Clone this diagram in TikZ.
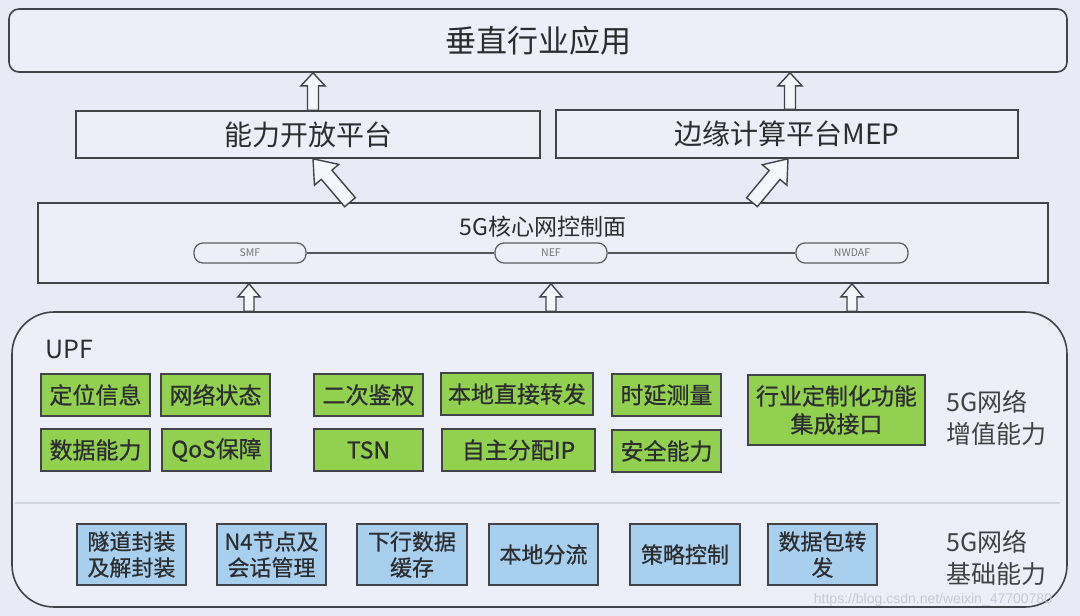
\documentclass[tikz,border=0pt]{standalone}
\usepackage{fontspec}
\setmainfont{Noto Sans CJK SC}
\newfontfamily\boxfont{Noto Sans CJK SC}[FakeBold=0.7]
\newfontfamily\wmfont{Liberation Sans}
\usetikzlibrary{calc}
\definecolor{bg}{RGB}{232,235,245}
\definecolor{boxfill}{RGB}{237,239,248}
\definecolor{edge}{RGB}{68,68,72}
\definecolor{txt}{RGB}{45,45,48}
\definecolor{gfill}{RGB}{146,208,80}
\definecolor{bfill}{RGB}{168,208,238}
\definecolor{divider}{RGB}{208,211,224}
\definecolor{wmcol}{RGB}{198,200,212}
\newcommand\fs[2]{\fontsize{#1}{#2}\selectfont}
% hollow block arrow: [style] tail, tip, shaft half-width, head half-width, head length
\newcommand\hollowarrow[6][]{%
  \path ($(#3)!#6!(#2)$) coordinate (hb);
  \draw[blockarrow,#1] ($(#2)!#4!90:(#3)$) -- ($(hb)!#4!90:(#3)$) -- ($(hb)!#5!90:(#3)$) -- (#3)
     -- ($(hb)!#5!-90:(#3)$) -- ($(hb)!#4!-90:(#3)$) -- ($(#2)!#4!-90:(#3)$) -- cycle;}
\begin{document}
\begin{tikzpicture}[x=1pt,y=-1pt,
  layer/.style={draw=edge,line width=1.6pt,fill=boxfill,text=txt,inner sep=0pt},
  nf/.style={draw=edge!85,line width=1.3pt,fill=boxfill,rounded corners=9pt,minimum width=112pt,minimum height=20pt,inner sep=0pt,font=\fs{10.5}{12},text=edge!75},
  gbox/.style={draw=edge,line width=2pt,fill=gfill,text=txt,minimum width=109pt,minimum height=42pt,inner sep=0pt,font=\boxfont\fs{23}{28},align=center},
  bbox/.style={draw=edge,line width=2pt,fill=bfill,text=txt,minimum width=109pt,minimum height=61pt,inner sep=0pt,font=\boxfont\fs{22}{26},align=center},
  side/.style={text=txt!90,font=\fs{25}{32},align=left,anchor=west,inner sep=0pt},
  blockarrow/.style={draw=edge,line width=1.4pt,fill=white!55!bg,line join=miter},
  nfline/.style={draw=edge!90,line width=1.8pt}]
\fill[bg] (0,0) rectangle (1080,616);
\useasboundingbox (0,0) rectangle (1080,616);

% top layers
\node[layer,rounded corners=10pt,minimum width=1058pt,minimum height=63pt,font=\fs{31}{36}] (app) at (538,40.5) {垂直行业应用};
\node[layer,minimum width=464pt,minimum height=47pt,font=\fs{28}{32}] (open) at (308,134.5) {能力开放平台};
\node[layer,minimum width=462pt,minimum height=48pt,font=\fs{28}{32}] (mep) at (787,134) {边缘计算平台MEP};

% core network control plane
\node[layer,minimum width=1010pt,minimum height=80pt] (core) at (543,243) {};
\node[text=txt,font=\fs{23}{28}] (coretitle) at (543,227) {5G核心网控制面};
\node[nf] (smf) at (250,253) {SMF};
\node[nf] (nef) at (551,253) {NEF};
\node[nf] (nwdaf) at (852,253) {NWDAF};
\draw[nfline] (smf) -- (nef);
\draw[nfline] (nef) -- (nwdaf);

% UPF
\node[layer,rounded corners=42pt,minimum width=1055pt,minimum height=295pt] (upf) at (539.5,459.5) {};
\draw[divider,line width=1.5pt] (15,503) -- (1060,503);
\node[text=txt,font=\fs{25}{30},anchor=west,inner sep=0pt] (upflabel) at (45,349) {UPF};

\node[gbox] (g1) at (95.5,395) {定位信息};
\node[gbox] (g2) at (215.5,395) {网络状态};
\node[gbox] (g3) at (368.5,395) {二次鉴权};
\node[gbox,minimum width=152pt] (g4) at (517,394) {本地直接转发};
\node[gbox] (g5) at (666.5,395) {时延测量};
\node[gbox,minimum width=177pt,minimum height=70pt] (g6) at (836.5,410) {行业定制化功能\\集成接口};
\node[gbox] (g7) at (95.5,450) {数据能力};
\node[gbox] (g8) at (216.5,450) {QoS保障};
\node[gbox] (g9) at (368.5,450) {TSN};
\node[gbox,minimum width=153pt] (g10) at (518.5,450) {自主分配IP};
\node[gbox] (g11) at (666.5,451) {安全能力};
\node[side] (vas) at (946,418) {5G网络\\增值能力};

\node[bbox] (b1) at (131.5,554.5) {隧道封装\\及解封装};
\node[bbox] (b2) at (271.5,554.5) {N4节点及\\会话管理};
\node[bbox,minimum width=110pt] (b3) at (412,554.5) {下行数据\\缓存};
\node[bbox] (b4) at (543.5,554.5) {本地分流};
\node[bbox,minimum width=110pt] (b5) at (685,554.5) {策略控制};
\node[bbox] (b6) at (822.5,554.5) {数据包转\\发};
\node[side] (basic) at (946,558) {5G网络\\基础能力};

% arrow anchor coordinates
\coordinate (x1) at (313,0);
\coordinate (x2) at (790,0);
\coordinate (t1) at (open.north -| x1);
\coordinate (h1) at (app.south -| x1);
\coordinate (t2) at (mep.north -| x2);
\coordinate (h2) at (app.south -| x2);
\coordinate (xs1) at (350,0);
\coordinate (xe1) at (313,0);
\coordinate (xs2) at (752,0);
\coordinate (xe2) at (788,0);
\coordinate (t3) at (core.north -| xs1);
\coordinate (h3) at (open.south -| xe1);
\coordinate (t4) at (core.north -| xs2);
\coordinate (h4) at (mep.south -| xe2);
\coordinate (x5) at (249,0);
\coordinate (x6) at (551,0);
\coordinate (x7) at (852,0);
\coordinate (t5) at (upf.north -| x5);
\coordinate (h5) at (core.south -| x5);
\coordinate (t6) at (upf.north -| x6);
\coordinate (h6) at (core.south -| x6);
\coordinate (t7) at (upf.north -| x7);
\coordinate (h7) at (core.south -| x7);

\hollowarrow{t1}{h1}{5.5pt}{12pt}{13pt}
\hollowarrow{t2}{h2}{5.5pt}{12pt}{13pt}
\hollowarrow{t3}{h3}{7pt}{16pt}{21pt}
\hollowarrow{t4}{h4}{7pt}{16pt}{21pt}
\hollowarrow{t5}{h5}{5pt}{11pt}{13pt}
\hollowarrow{t6}{h6}{5pt}{11pt}{13pt}
\hollowarrow{t7}{h7}{5pt}{11pt}{13pt}

\node[text=wmcol,font=\wmfont\fs{14}{16}] (wm) at (933,600) {https://blog.csdn.net/weixin\_47700780};
\end{tikzpicture}
\end{document}
